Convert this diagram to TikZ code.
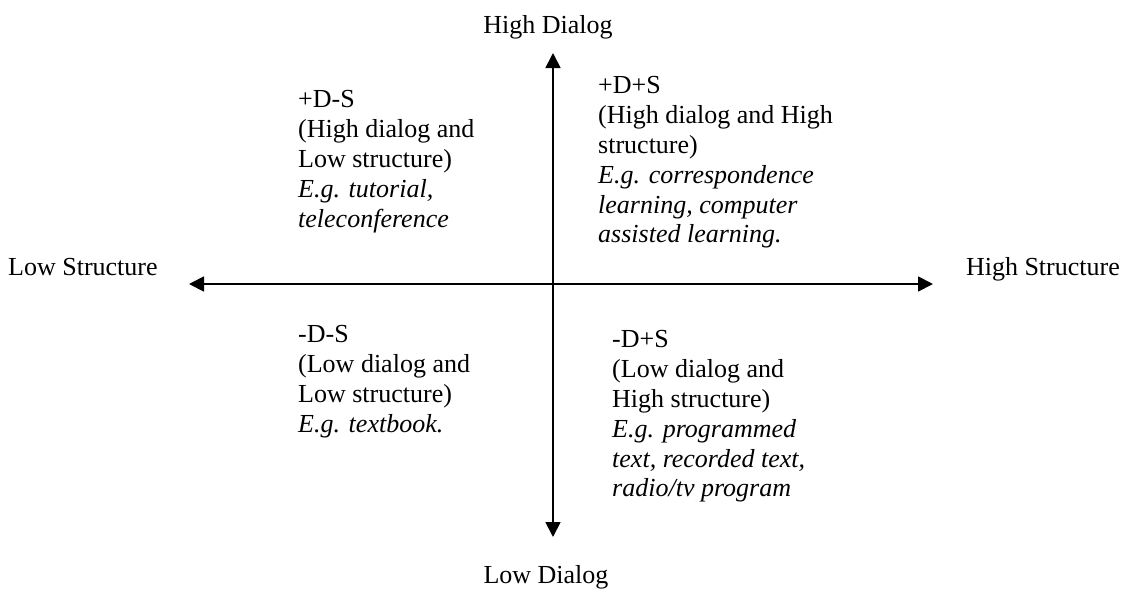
\documentclass[tikz,border=0pt]{standalone}
\usepackage{fontspec}
\setmainfont{Liberation Serif}
\usetikzlibrary{arrows.meta}

\tikzset{
  axis/.style={line width=1.8pt, {Triangle[length=15pt,width=15pt]}-{Triangle[length=15pt,width=15pt]}},
  axislabel/.style={inner sep=0pt, font=\fontsize{26}{29.9}\selectfont},
  quadrant/.style={anchor=north west, inner sep=0pt, align=left, font=\fontsize{26}{29.9}\selectfont}
}

\begin{document}
\begin{tikzpicture}[x=1pt, y=-1pt]
  \useasboundingbox (0,0) rectangle (1133,590);

  % axis end points
  \coordinate (top) at (553,53);
  \coordinate (bottom) at (553,537);
  \coordinate (left) at (189,284);
  \coordinate (right) at (933,284);

  \draw[axis] (bottom) -- (top);
  \draw[axis] (left) -- (right);

  % axis labels
  \node[axislabel, anchor=base] (hd) at (548,33) {High Dialog};
  \node[axislabel, anchor=base] (ld) at (546,583) {Low Dialog};
  \node[axislabel, anchor=base west] (ls) at (8,275) {Low Structure};
  \node[axislabel, anchor=base east] (hs) at (1120,275) {High Structure};

  % quadrant descriptions
  \node[quadrant] (dls) at (298,90) {+D-S\\(High dialog and\\Low structure)\\\textit{E.g. tutorial,}\\\textit{teleconference}};
  \node[quadrant] (dhs) at (598,76) {+D+S\\(High dialog and High\\structure)\\\textit{E.g. correspondence}\\\textit{learning, computer}\\\textit{assisted learning.}};
  \node[quadrant] (lls) at (298,325) {-D-S\\(Low dialog and\\Low structure)\\\textit{E.g. textbook.}};
  \node[quadrant] (lhs) at (612,330) {-D+S\\(Low dialog and\\High structure)\\\textit{E.g. programmed}\\\textit{text, recorded text,}\\\textit{radio/tv program}};
\end{tikzpicture}
\end{document}
